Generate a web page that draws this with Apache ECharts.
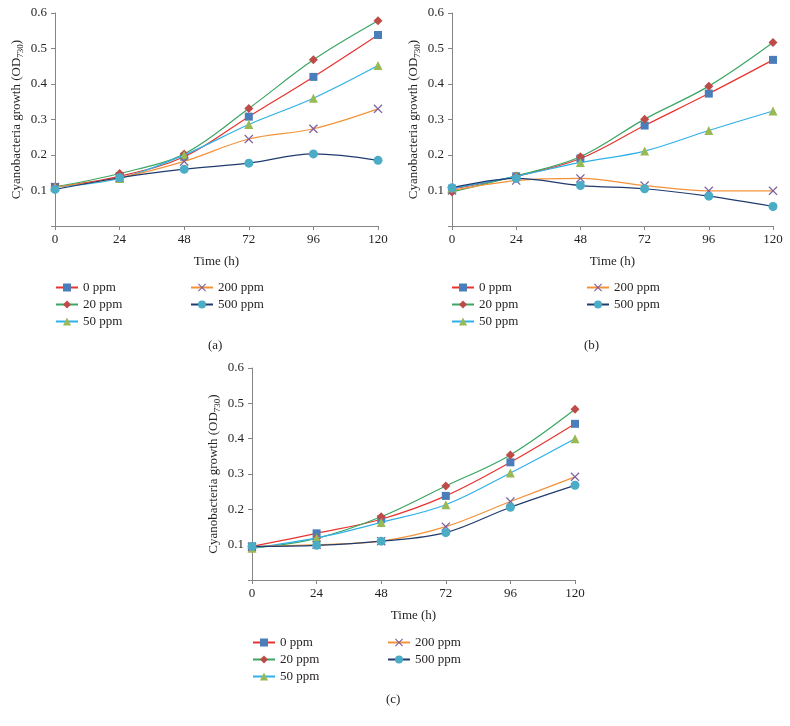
<!DOCTYPE html>
<html>
<head>
<meta charset="utf-8">
<script src="https://cdn.jsdelivr.net/npm/echarts@6/dist/echarts.min.js"></script>
<style>html,body{margin:0;padding:0;background:#fff;}#c{width:790px;height:726px;}</style>
</head>
<body>
<div id="c"></div>
<script>
const times = [0, 24, 48, 72, 96, 120];
const seriesNames = ['0 ppm', '20 ppm', '50 ppm', '200 ppm', '500 ppm'];
const xTicks = [0, 24, 48, 72, 96, 120];
const yTicks = [0.1, 0.2, 0.3, 0.4, 0.5, 0.6];

// Panel (a)
const a_0ppm   = [0.110, 0.140, 0.195, 0.308, 0.420, 0.538];
const a_20ppm  = [0.110, 0.148, 0.203, 0.331, 0.468, 0.578];
const a_50ppm  = [0.110, 0.134, 0.200, 0.286, 0.360, 0.452];
const a_200ppm = [0.110, 0.136, 0.182, 0.245, 0.274, 0.330];
const a_500ppm = [0.103, 0.136, 0.160, 0.177, 0.203, 0.185];
// Panel (b)
const b_0ppm   = [0.105, 0.140, 0.190, 0.283, 0.373, 0.468];
const b_20ppm  = [0.096, 0.141, 0.195, 0.301, 0.394, 0.517];
const b_50ppm  = [0.106, 0.140, 0.179, 0.211, 0.269, 0.324];
const b_200ppm = [0.100, 0.128, 0.134, 0.114, 0.099, 0.099];
const b_500ppm = [0.108, 0.134, 0.114, 0.105, 0.084, 0.055];
// Panel (c)
const c_0ppm   = [0.095, 0.132, 0.172, 0.238, 0.333, 0.442];
const c_20ppm  = [0.090, 0.118, 0.179, 0.266, 0.354, 0.483];
const c_50ppm  = [0.090, 0.119, 0.163, 0.213, 0.303, 0.400];
const c_200ppm = [0.094, 0.100, 0.110, 0.151, 0.222, 0.292];
const c_500ppm = [0.095, 0.098, 0.110, 0.134, 0.206, 0.268];

const panels = [
  [a_0ppm, a_20ppm, a_50ppm, a_200ppm, a_500ppm],
  [b_0ppm, b_20ppm, b_50ppm, b_200ppm, b_500ppm],
  [c_0ppm, c_20ppm, c_50ppm, c_200ppm, c_500ppm]
];

const lineColors = ['#e8332f', '#3aa661', '#2fb0e8', '#f4923a', '#1f3b6e'];
const markColors = ['#4a7ebb', '#be4b48', '#98b954', '#7d60a0', '#4bacc6'];
const symbols = ['rect', 'diamond', 'triangle',
  'path://M0,1 L1,0 L5,4 L9,0 L10,1 L6,5 L10,9 L9,10 L5,6 L1,10 L0,9 L4,5 Z', 'circle'];
const symSizes = [8, 9, 9, 9, 9];

const FONT = 'Liberation Serif';
const TXT = '#231f20';
const AX = '#868686';

const grids = [
  {left: 55, top: 13, width: 323, height: 213},
  {left: 452, top: 13, width: 321, height: 213},
  {left: 252, top: 368, width: 323, height: 212}
];

const xAxes = grids.map((g, i) => ({
  type: 'value', gridIndex: i, min: 0, max: 120, interval: 24,
  name: 'Time (h)', nameLocation: 'middle', nameGap: 29,
  nameTextStyle: {fontFamily: FONT, fontSize: 13, color: TXT},
  axisLine: {lineStyle: {color: AX, width: 1}},
  axisTick: {show: true, length: 4, lineStyle: {color: AX}},
  axisLabel: {fontFamily: FONT, fontSize: 13, color: TXT, margin: 7,
    formatter: v => xTicks.includes(v) ? String(v) : ''},
  splitLine: {show: false}
}));

const yAxes = grids.map((g, i) => ({
  type: 'value', gridIndex: i, min: 0, max: 0.6, interval: 0.1,
  name: '{a|Cyanobacteria growth (OD}{s|730}{a|)}',
  nameLocation: 'middle', nameGap: 30,
  nameTextStyle: {
    fontFamily: FONT, fontSize: 13, color: TXT,
    rich: {
      a: {fontFamily: FONT, fontSize: 13, color: TXT, lineHeight: 16, verticalAlign: 'middle'},
      s: {fontFamily: FONT, fontSize: 9, color: TXT, lineHeight: 16, verticalAlign: 'bottom', padding: [6, 0, 0, 0]}
    }
  },
  axisLine: {show: true, lineStyle: {color: AX, width: 1}},
  axisTick: {show: true, length: 4, lineStyle: {color: AX}},
  axisLabel: {fontFamily: FONT, fontSize: 13, color: TXT, margin: 8,
    formatter: v => {
      const hit = yTicks.find(t => Math.abs(t - v) < 1e-9);
      return hit !== undefined ? hit.toFixed(1) : '';
    }},
  splitLine: {show: false}
}));

const series = [];
panels.forEach((vals, pi) => {
  vals.forEach((arr, si) => {
    series.push({
      type: 'line', name: seriesNames[si], xAxisIndex: pi, yAxisIndex: pi,
      data: times.map((t, k) => [t, arr[k]]),
      smooth: 0.35,
      symbol: symbols[si], symbolSize: symSizes[si], showSymbol: true,
      lineStyle: {color: lineColors[si], width: 1.2},
      itemStyle: {color: markColors[si]},
      z: 2 + si,
      animation: false
    });
  });
});

function legendPair(l1, l2, top) {
  const common = {
    orient: 'vertical', top: top, itemWidth: 22, itemHeight: 10, itemGap: 4,
    textStyle: {fontFamily: FONT, fontSize: 13, color: TXT},
    selectedMode: false, padding: 0
  };
  return [
    Object.assign({}, common, {left: l1, data: seriesNames.slice(0, 3)}),
    Object.assign({}, common, {left: l2, data: seriesNames.slice(3)})
  ];
}

const option = {
  backgroundColor: '#ffffff',
  animation: false,
  grid: grids,
  xAxis: xAxes,
  yAxis: yAxes,
  series: series,
  legend: [].concat(
    legendPair(55, 190, 281),
    legendPair(451, 586, 281),
    legendPair(252, 387, 636)
  ),
  title: [
    {text: '(a)', left: 208, top: 339, padding: 0, textStyle: {fontFamily: FONT, fontSize: 13, fontWeight: 'normal', color: TXT}},
    {text: '(b)', left: 584, top: 339, padding: 0, textStyle: {fontFamily: FONT, fontSize: 13, fontWeight: 'normal', color: TXT}},
    {text: '(c)', left: 386, top: 693, padding: 0, textStyle: {fontFamily: FONT, fontSize: 13, fontWeight: 'normal', color: TXT}}
  ]
};

const chart = echarts.init(document.getElementById('c'), null, {renderer: 'canvas'});
chart.setOption(option);
</script>
</body>
</html>
